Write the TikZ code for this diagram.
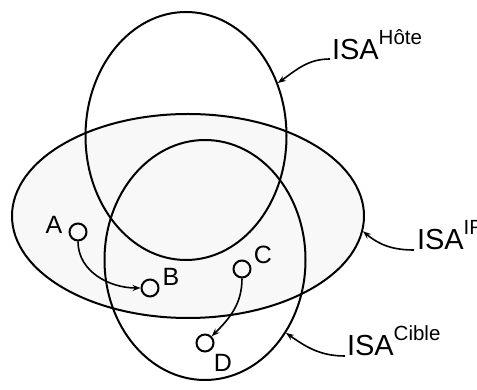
\documentclass[tikz,border=0pt]{standalone}
\usepackage{fontspec}
\setmainfont{Liberation Sans}
\usetikzlibrary{arrows.meta,shapes.geometric}
\definecolor{irfill}{HTML}{F8F8F8}
\begin{document}
\begin{tikzpicture}[x=1pt,y=1pt,line width=2pt,
  setell/.style={draw,ellipse,inner sep=0pt},
  pt/.style={draw,circle,inner sep=0pt,minimum size=17pt},
  lett/.style={inner sep=0pt,font=\fontsize{25}{25}\selectfont},
  isa/.style={inner sep=0pt,anchor=base west,font=\fontsize{29}{29}\selectfont},
  arr/.style={-{Stealth[length=8pt,width=6pt]},line width=1.6pt}]
\useasboundingbox (0,0) rectangle (477,390);
\node[setell,fill=irfill,minimum width=352pt,minimum height=204pt] (ir) at (188,174) {};
\node[setell,minimum width=201pt,minimum height=248pt] (hote) at (186,254) {};
\node[setell,minimum width=201pt,minimum height=240pt] (cible) at (205,130) {};
\node[pt] (a) at (78,158) {};
\node[pt] (b) at (150,102) {};
\node[pt] (c) at (242,121) {};
\node[pt] (d) at (205,47) {};
\node[lett] (la) at (54,165) {A};
\node[lett] (lb) at (171,113) {B};
\node[lett] (lc) at (263,135) {C};
\node[lett] (ld) at (223,27) {D};
\draw[arr] (a.south) to[out=-90,in=180] (b.west);
\draw[arr] (c.south) to[out=-90,in=45] (d.45);
\node[isa] (lh) at (331,330) {ISA\raisebox{15pt}{\fontsize{20.5}{20.5}\selectfont Hôte}};
\node[isa] (li) at (416,140) {ISA\raisebox{15pt}{\fontsize{20.5}{20.5}\selectfont IR}};
\node[isa] (lci) at (346,34) {ISA\raisebox{15pt}{\fontsize{20.5}{20.5}\selectfont Cible}};
\draw[arr] ([xshift=-1pt,yshift=1pt]lh.base west) to[out=180,in=35] (hote.30);
\draw[arr] ([xshift=-2pt]li.base west) to[out=180,in=-40] (ir.-5);
\draw[arr] ([xshift=-1pt]lci.base west) to[out=180,in=-35] (cible.-42);
\end{tikzpicture}
\end{document}
